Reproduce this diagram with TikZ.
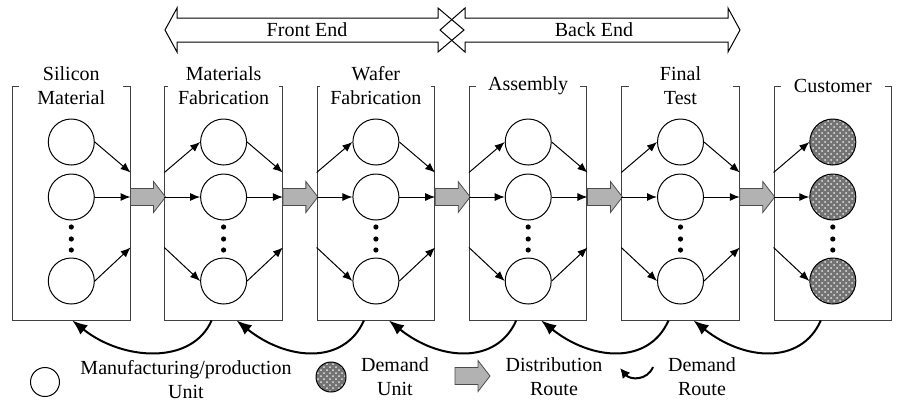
\documentclass[tikz,border=0pt]{standalone}
\usepackage{fontspec}
\setmainfont{Liberation Serif}
\usetikzlibrary{arrows.meta, positioning, calc, patterns}

\definecolor{routegray}{RGB}{178,178,178}
\definecolor{meshgray}{RGB}{115,115,115}

\tikzset{
  stage/.style={draw=black!75, line width=0.5pt, minimum width=58.75pt, minimum height=117pt, inner sep=0pt},
  stagename/.style={fill=white, align=center, inner xsep=5pt, inner ysep=1pt, minimum width=52pt, font=\fontsize{10}{12}\selectfont},
  unit/.style={circle, draw, line width=0.5pt, minimum size=23pt, inner sep=0pt},
  demand/.style={unit, preaction={fill=meshgray}, preaction={pattern=crosshatch dots, pattern color=white!80!gray}},
  flow/.style={-{Latex[length=5pt,width=4pt]}, line width=0.5pt},
  demandroute/.style={-{Latex[length=7.5pt,width=6pt]}, line width=1pt},
  legend/.style={align=center, font=\fontsize{10}{12}\selectfont},
  span/.style={draw, line width=0.5pt},
  pics/distroute/.style={code={
    \filldraw[fill=routegray, draw=black!70, line width=0.4pt]
      (0,-8.5) -- (23,-8.5) -- (23,-15.5) -- (35,0) -- (23,15.5) -- (23,8.5) -- (0,8.5) -- cycle;
  }}
}

\begin{document}
\begin{tikzpicture}[x=0.5pt, y=-0.5pt]
\useasboundingbox (0,0) rectangle (898,403);

% front end / back end spans
\draw[span] (165,30) -- (177,8) -- (177,18) -- (438,18) -- (438,8) -- (464,30)
  -- (438,52) -- (438,42) -- (177,42) -- (177,52) -- cycle;
\draw[span] (740,30) -- (728,8) -- (728,18) -- (465,18) -- (465,8) -- (440,30)
  -- (465,52) -- (465,42) -- (728,42) -- (728,52) -- cycle;
\node[legend] (frontend) at (307,30) {Front End};
\node[legend] (backend) at (594,30) {Back End};

% stages with their units
\foreach \i/\title in {1/{Silicon\\Material}, 2/{Materials\\Fabrication}, 3/{Wafer\\Fabrication},
                       4/Assembly, 5/{Final\\Test}, 6/Customer} {
  \pgfmathsetmacro{\x}{71.3+152.3*(\i-1)}
  \ifnum\i<6 \tikzset{unitkind/.style={unit}}\else \tikzset{unitkind/.style={demand}}\fi
  \node[stage] (s\i) at (\x,203) {};
  \node[stagename] (t\i) at (\x,86) {\title};
  \node[unitkind] (u\i a) at (\x,142) {};
  \node[unitkind] (u\i b) at (\x,197) {};
  \node[unitkind] (u\i c) at (\x,281) {};
  \foreach \y in {227,239,250}
    \fill (\x,\y) circle[radius=1.3pt];
}

% flows out of each stage
\foreach \i in {1,...,5} {
  \draw[flow] (u\i a.east) -- ($(s\i.north east)+(0,87)$);
  \draw[flow] (u\i b.east) -- (s\i.east |- u\i b);
  \draw[flow] (u\i c.east) -- ($(s\i.north east)+(0,162)$);
  \pic at (s\i.east |- u\i b) {distroute};
}

% flows into each stage
\foreach \i in {2,...,6} {
  \draw[flow] ($(s\i.north west)+(0,87)$) -- (u\i a.west);
  \draw[flow] (s\i.west |- u\i b) -- (u\i b.west);
  \draw[flow] ($(s\i.north west)+(0,162)$) -- (u\i c.west);
}

% demand going back upstream
\foreach \src/\dst/\dx in {2/1/0.5pt, 3/2/6.5pt, 4/3/6.5pt, 5/4/6.5pt, 6/5/6.5pt}
  \draw[demandroute] ([xshift=-6pt]s\src.south) .. controls +(-20,45) and +(50,40) .. ([xshift=\dx]s\dst.south);

% legend
\node[unit, minimum size=14.5pt] (lgunit) at (45,382) {};
\node[legend] (lgunittext) at (186,380) {Manufacturing/production\\Unit};
\node[demand, minimum size=15pt] (lgdemand) at (331,377) {};
\node[legend] (lgdemandtext) at (395,377) {Demand\\Unit};
\pic at (455,376) {distroute};
\node[legend] (lgdisttext) at (554,377) {Distribution\\Route};
\coordinate (lgroute) at (653,367);
\coordinate (lgroutetip) at (620,368);
\draw[-{Latex[length=5pt,width=5pt]}, line width=1pt] (lgroute) .. controls +(-6,14) and +(10,12) .. (lgroutetip);
\node[legend] (lgroutetext) at (702,377) {Demand\\Route};
\end{tikzpicture}
\end{document}
